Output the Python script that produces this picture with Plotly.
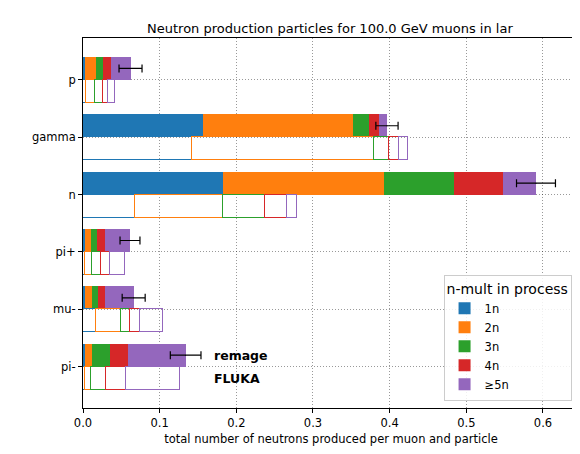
import plotly.graph_objects as go

categories = ["pi-", "mu-", "pi+", "n", "gamma", "p"]
labels = ["1n", "2n", "3n", "4n", "≥5n"]
colors = ["#1f77b4", "#ff7f0e", "#2ca02c", "#d62728", "#9467bd"]

# remage values per multiplicity (rows = multiplicity, columns = categories)
remage_1n = [0.002, 0.003, 0.003, 0.1826, 0.1565, 0.003]
remage_2n = [0.0097, 0.0083, 0.0074, 0.210, 0.1955, 0.014]
remage_3n = [0.0235, 0.0083, 0.0083, 0.0913, 0.021, 0.009]
remage_4n = [0.0235, 0.0091, 0.010, 0.0639, 0.013, 0.010]
remage_5n = [0.0752, 0.0374, 0.0326, 0.0431, 0.0105, 0.026]
remage_err = [0.020, 0.015, 0.013, 0.0254, 0.0145, 0.015]

fluka_1n = [0.003, 0.017, 0.003, 0.0683, 0.1422, 0.004]
fluka_2n = [0.0078, 0.0326, 0.0092, 0.1143, 0.2374, 0.012]
fluka_3n = [0.0188, 0.0117, 0.0117, 0.0552, 0.0195, 0.010]
fluka_4n = [0.0269, 0.0131, 0.0117, 0.0287, 0.013, 0.0066]
fluka_5n = [0.0696, 0.0295, 0.0188, 0.0131, 0.0115, 0.0087]

remage = [remage_1n, remage_2n, remage_3n, remage_4n, remage_5n]
fluka = [fluka_1n, fluka_2n, fluka_3n, fluka_4n, fluka_5n]

idx = list(range(len(categories)))
y_rem = [i + 0.2 for i in idx]
y_fl = [i - 0.2 for i in idx]

fig = go.Figure()
for k in range(5):
    fig.add_trace(go.Bar(orientation="h", y=y_rem, x=remage[k], width=0.4,
                         marker=dict(color=colors[k], line=dict(width=0)),
                         name=labels[k], showlegend=True))
for k in range(5):
    fig.add_trace(go.Bar(orientation="h", y=y_fl, x=fluka[k], width=0.4,
                         marker=dict(color="rgba(255,255,255,0)", line=dict(color=colors[k], width=1.2)),
                         name=labels[k], showlegend=False))

totals = [sum(remage[k][i] for k in range(5)) for i in idx]
fig.add_trace(go.Scatter(x=totals, y=y_rem, mode="markers", marker=dict(size=1, color="black"),
                         error_x=dict(type="data", array=remage_err, color="black", thickness=1.2, width=4),
                         showlegend=False, hoverinfo="skip"))

fig.add_annotation(x=0.168, y=0.2, text="<b>remage</b>", showarrow=False, xanchor="left",
                   font=dict(size=12.5, color="black"))
fig.add_annotation(x=0.168, y=-0.2, text="<b>FLUKA</b>", showarrow=False, xanchor="left",
                   font=dict(size=12.5, color="black"))

axis_common = dict(showline=True, linecolor="black", linewidth=1, mirror=True, ticks="outside",
                   ticklen=4, tickcolor="black", showgrid=True, gridcolor="rgba(0,0,0,0.4)",
                   griddash="1px,2px", gridwidth=1, zeroline=False, automargin=False,
                   tickfont=dict(size=11.5))
fig.update_layout(
    width=580, height=454, barmode="stack", plot_bgcolor="white", paper_bgcolor="white",
    font=dict(family="DejaVu Sans", size=11.5, color="black"),
    margin=dict(l=75, r=9, t=30, b=54),
    title=dict(text="Neutron production particles for 100.0 GeV muons in lar", x=0.555, xanchor="center",
               y=0.965, font=dict(size=13)),
    xaxis=dict(range=[0, 0.647], tickvals=[0, 0.1, 0.2, 0.3, 0.4, 0.5, 0.6], tickformat=".1f",
               title=dict(text="total number of neutrons produced per muon and particle", standoff=6,
                          font=dict(size=11.5)),
               **axis_common),
    yaxis=dict(range=[-0.72, 5.73], tickvals=idx, ticktext=categories, **axis_common),
    legend=dict(title=dict(text="n-mult in process", side="top"), x=0.985, y=0.02, xanchor="right",
                yanchor="bottom", bgcolor="rgba(255,255,255,0.85)", bordercolor="#cccccc", borderwidth=1,
                traceorder="normal", font=dict(size=11.5)),
    bargap=0,
)
fig.write_html("out.html")
